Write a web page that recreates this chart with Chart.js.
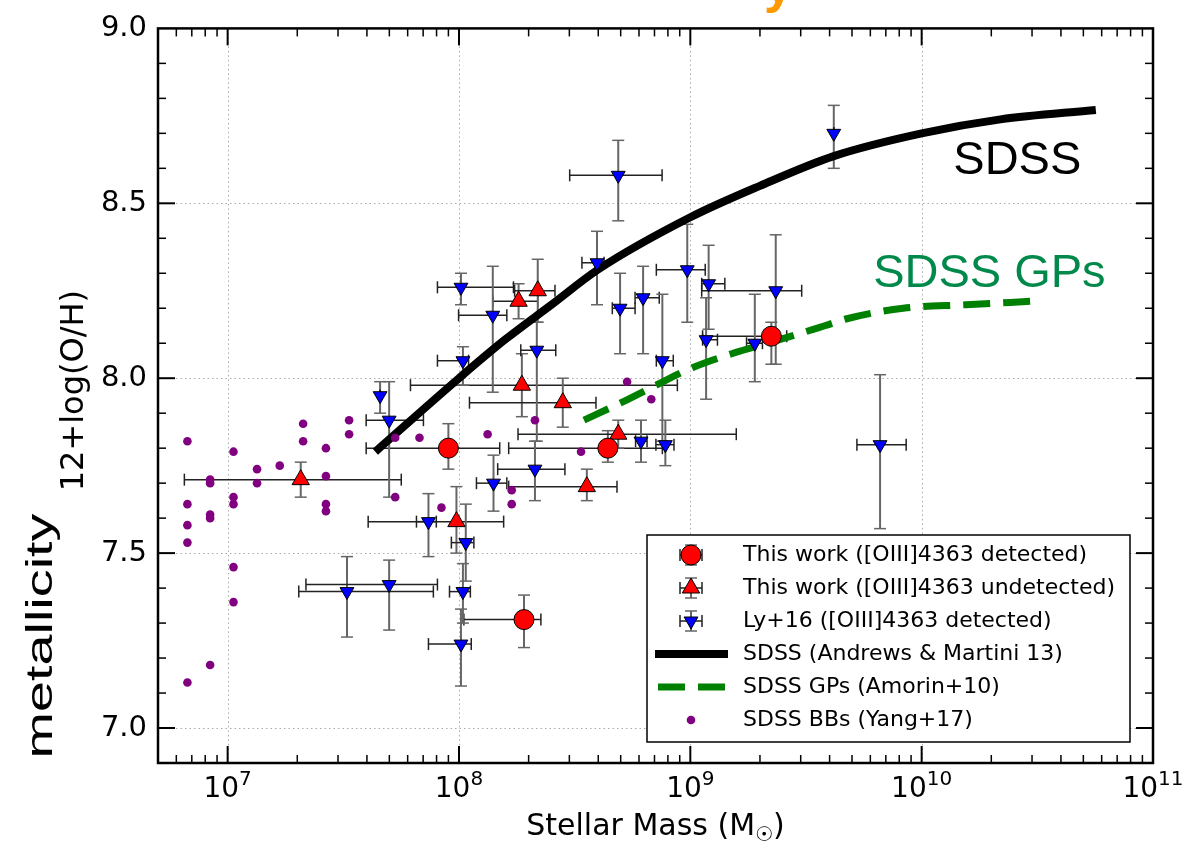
<!DOCTYPE html>
<html>
<head>
<meta charset="utf-8">
<title>Mass-metallicity relation</title>
<script src="https://cdn.jsdelivr.net/npm/chart.js"></script>
<style>
  body { margin: 0; background: #fff; }
  canvas { display: block; }
</style>
</head>
<body>
<canvas id="mzChart" width="1187" height="843"></canvas>
<script>
// stellar mass in Msun, metallicity as 12+log(O/H)

// SDSS blueberries (Yang+17)
const bbMass = [6.7e6, 6.7e6, 6.7e6, 6.7e6, 6.7e6,
  8.4e6, 8.4e6, 8.4e6, 8.4e6, 8.4e6,
  1.06e7, 1.06e7, 1.06e7, 1.06e7, 1.06e7,
  1.34e7, 1.34e7, 1.68e7, 2.12e7, 2.12e7,
  2.66e7, 2.66e7, 2.66e7, 2.66e7, 3.35e7, 3.35e7,
  5.3e7, 5.3e7, 6.75e7, 8.4e7, 1.33e8, 1.69e8, 1.69e8,
  2.13e8, 3.37e8, 5.33e8, 6.78e8];
const bbZ = [7.82, 7.64, 7.58, 7.53, 7.13,
  7.71, 7.70, 7.61, 7.60, 7.18,
  7.79, 7.66, 7.64, 7.46, 7.36,
  7.74, 7.70, 7.75, 7.87, 7.82,
  7.80, 7.72, 7.64, 7.62, 7.88, 7.84,
  7.83, 7.66, 7.83, 7.63, 7.84, 7.68, 7.64,
  7.88, 7.79, 7.99, 7.94];

// This work, [OIII]4363 detected
const detMass   = [9.0e7, 4.4e8, 1.91e8, 2.24e9];
const detZ      = [7.80, 7.80, 7.31, 8.12];
const detMassLo = [3.97e7, 1.64e8, 1.05e8, 1.13e9];
const detMassHi = [1.50e8, 7.57e8, 2.26e8, 2.61e9];
const detZLo    = [7.74, 7.76, 7.23, 8.04];
const detZHi    = [7.87, 7.85, 7.38, 8.16];

// This work, [OIII]4363 undetected
const undMass   = [2.07e7, 9.75e7, 1.81e8, 2.19e8, 1.87e8, 2.81e8, 3.57e8, 4.88e8];
const undZ      = [7.71, 7.59, 8.22, 8.25, 7.98, 7.93, 7.69, 7.84];
const undMassLo = [6.5e6, 4.05e7, 1.40e8, 1.74e8, 6.17e7, 1.11e8, 1.64e8, 1.80e8];
const undMassHi = [5.63e7, 1.56e8, 2.19e8, 2.60e8, 8.79e8, 3.91e8, 4.82e8, 1.58e9];
const undZLo    = [7.66, 7.50, 8.17, 8.16, 7.89, 7.86, 7.65, 7.80];
const undZHi    = [7.76, 7.69, 8.27, 8.34, 8.07, 8.00, 7.74, 7.88];

// Ly+16, [OIII]4363 detected
const lyMass   = [1.02e8, 1.40e8, 1.04e8, 2.17e8, 3.95e8, 4.88e8, 4.97e8, 6.25e8, 7.57e8, 9.70e8,
  1.20e9, 1.17e9, 1.90e9, 2.34e9, 4.17e9, 6.61e9, 4.56e7, 4.99e7, 1.41e8, 2.13e8,
  7.38e7, 1.07e8, 3.28e7, 4.99e7, 1.04e8, 1.02e8, 6.12e8, 7.80e8];
const lyZ      = [8.26, 8.18, 8.05, 8.08, 8.33, 8.58, 8.20, 8.23, 8.05, 8.31,
  8.27, 8.11, 8.10, 8.25, 8.70, 7.81, 7.95, 7.88, 7.70, 7.74,
  7.59, 7.53, 7.39, 7.41, 7.39, 7.24, 7.82, 7.81];
const lyMassLo = [8.07e7, 9.96e7, 8.07e7, 1.85e8, 3.40e8, 3.01e8, 4.60e8, 5.77e8, 7.13e8, 7.13e8,
  1.12e9, 1.13e9, 1.75e9, 1.12e9, 4.17e9, 5.25e9, 4.56e7, 3.97e7, 1.19e8, 1.47e8,
  6.55e7, 9.27e7, 2.03e7, 2.18e7, 9.10e7, 7.38e7, 5.80e8, 7.10e8];
const lyMassHi = [1.72e8, 1.61e8, 1.10e8, 2.62e8, 4.24e8, 7.55e8, 5.77e8, 7.34e8, 8.44e8, 1.16e9,
  1.41e9, 1.31e9, 2.05e9, 3.03e9, 4.17e9, 8.57e9, 4.56e7, 7.02e7, 1.61e8, 2.87e8,
  7.98e7, 1.16e8, 7.75e7, 8.07e7, 1.12e8, 1.13e8, 6.50e8, 8.50e8];
const lyZLo    = [8.21, 7.96, 7.98, 7.82, 8.21, 8.45, 8.07, 8.07, 7.82, 8.16,
  8.14, 7.94, 7.99, 8.04, 8.60, 7.57, 7.90, 7.66, 7.62, 7.65,
  7.49, 7.42, 7.26, 7.28, 7.30, 7.12, 7.76, 7.75];
const lyZHi    = [8.30, 8.32, 8.09, 8.16, 8.42, 8.68, 8.30, 8.32, 8.24, 8.44,
  8.38, 8.23, 8.24, 8.41, 8.78, 8.01, 7.99, 7.99, 7.78, 7.82,
  7.67, 7.64, 7.49, 7.48, 7.47, 7.34, 7.88, 7.88];

// SDSS relation (Andrews & Martini 13)
const sdssMass = [4.35e7, 1.0e8, 1.58e8, 2.51e8, 3.98e8, 1.0e9, 2.0e9, 4.17e9, 1.0e10, 2.19e10, 5.66e10];
const sdssZ    = [7.79, 8.00, 8.11, 8.21, 8.31, 8.46, 8.55, 8.635, 8.70, 8.74, 8.767];

// SDSS green peas (Amorin+10)
const gpMass = [3.47e8, 5.02e8, 7.11e8, 1.02e9, 1.51e9, 2.43e9, 3.81e9, 4.75e9, 8.32e9, 1.55e10, 3.01e10];
const gpZ    = [7.88, 7.93, 7.98, 8.03, 8.07, 8.11, 8.15, 8.17, 8.20, 8.21, 8.22];

// axes
const X_MIN = 5e6, X_MAX = 1e11;
const Y_MIN = 6.9, Y_MAX = 9.0;
const xMajor = [1e7, 1e8, 1e9, 1e10, 1e11];
const xExp = ['7', '8', '9', '10', '11'];
const yMajor = [7.0, 7.5, 8.0, 8.5, 9.0];

const legendLabels = [
  'This work ([OIII]4363 detected)',
  'This work ([OIII]4363 undetected)',
  'Ly+16 ([OIII]4363 detected)',
  'SDSS (Andrews & Martini 13)',
  'SDSS GPs (Amorin+10)',
  'SDSS BBs (Yang+17)'
];

function pts(xs, ys) { return xs.map((v, i) => ({ x: v, y: ys[i] })); }

function seg(ctx, x0, y0, x1, y1) {
  ctx.beginPath(); ctx.moveTo(x0, y0); ctx.lineTo(x1, y1); ctx.stroke();
}

// vertical + horizontal error bar with caps, pixel coords
function errBar(ctx, px, py, x0, x1, y0, y1) {
  const cap = 6;
  ctx.strokeStyle = '#666'; ctx.lineWidth = 2;
  seg(ctx, px, y0, px, y1);
  ctx.lineWidth = 1.5;
  seg(ctx, px - cap, y0, px + cap, y0);
  seg(ctx, px - cap, y1, px + cap, y1);
  ctx.strokeStyle = '#222';
  seg(ctx, x0, py, x1, py);
  seg(ctx, x0, py - cap, x0, py + cap);
  seg(ctx, x1, py - cap, x1, py + cap);
}

function tri(ctx, cx, cy, r, down, fill) {
  const s = down ? -1 : 1;
  ctx.beginPath();
  ctx.moveTo(cx, cy - s * r);
  ctx.lineTo(cx + 0.866 * r, cy + s * 0.5 * r);
  ctx.lineTo(cx - 0.866 * r, cy + s * 0.5 * r);
  ctx.closePath();
  ctx.fillStyle = fill; ctx.fill();
  ctx.strokeStyle = '#000'; ctx.lineWidth = 1; ctx.stroke();
}

const decor = {
  id: 'decor',
  beforeDatasetsDraw(chart) {
    const { ctx, chartArea: a, scales: { x, y } } = chart;
    ctx.save();
    // dotted grid
    ctx.strokeStyle = '#aaa'; ctx.lineWidth = 1; ctx.setLineDash([1.5, 3]);
    xMajor.forEach(v => {
      if (v >= X_MAX) return;
      const px = Math.round(x.getPixelForValue(v)) + 0.5;
      seg(ctx, px, a.top, px, a.bottom);
    });
    yMajor.forEach(v => {
      if (v >= Y_MAX) return;
      const py = Math.round(y.getPixelForValue(v)) + 0.5;
      seg(ctx, a.left, py, a.right, py);
    });
    ctx.setLineDash([]);
    // error bars
    chart.data.datasets.forEach(ds => {
      if (!ds.err) return;
      const e = ds.err;
      ds.data.forEach((p, i) => {
        errBar(ctx, x.getPixelForValue(p.x), y.getPixelForValue(p.y),
          x.getPixelForValue(e.xLo[i]), x.getPixelForValue(e.xHi[i]),
          y.getPixelForValue(e.yLo[i]), y.getPixelForValue(e.yHi[i]));
      });
    });
    ctx.restore();
  },
  afterDraw(chart) {
    const { ctx, chartArea: a, scales: { x, y } } = chart;
    ctx.save();
    // frame
    ctx.strokeStyle = '#000'; ctx.lineWidth = 2.5;
    ctx.strokeRect(a.left, a.top, a.right - a.left, a.bottom - a.top);
    // inward ticks, all four sides
    for (let e = 6; e <= 10; e++) {
      for (let k = 1; k <= 9; k++) {
        const v = k * Math.pow(10, e);
        if (v <= X_MIN || v >= X_MAX) continue;
        const px = x.getPixelForValue(v);
        const len = k === 1 ? 17 : 8;
        ctx.lineWidth = k === 1 ? 2 : 1.5;
        seg(ctx, px, a.bottom, px, a.bottom - len);
        seg(ctx, px, a.top, px, a.top + len);
      }
    }
    for (let i = 70; i < 90; i++) {
      const py = y.getPixelForValue(i / 10);
      const len = i % 5 === 0 ? 17 : 8;
      ctx.lineWidth = i % 5 === 0 ? 2 : 1.5;
      seg(ctx, a.left, py, a.left + len, py);
      seg(ctx, a.right, py, a.right - len, py);
    }
    // x tick labels 10^n
    ctx.fillStyle = '#000';
    ctx.textBaseline = 'alphabetic';
    xMajor.forEach((v, i) => {
      const px = x.getPixelForValue(v);
      ctx.font = '28px "DejaVu Sans"';
      const w1 = ctx.measureText('10').width;
      ctx.font = '20px "DejaVu Sans"';
      const w2 = ctx.measureText(xExp[i]).width;
      const left = px - (w1 + w2) / 2;
      ctx.textAlign = 'left';
      ctx.font = '28px "DejaVu Sans"';
      ctx.fillText('10', left, 797);
      ctx.font = '20px "DejaVu Sans"';
      ctx.fillText(xExp[i], left + w1, 785);
    });
    // x axis title
    ctx.font = '30px "DejaVu Sans"';
    const t1 = 'Stellar Mass (M', t3 = ')';
    const w1 = ctx.measureText(t1).width, w3 = ctx.measureText(t3).width;
    ctx.font = '20px "DejaVu Sans"';
    const w2 = ctx.measureText('\u2609').width;
    const sx = (a.left + a.right) / 2 - (w1 + w2 + w3) / 2;
    ctx.font = '30px "DejaVu Sans"';
    ctx.fillText(t1, sx, 835);
    ctx.font = '20px "DejaVu Sans"';
    ctx.fillText('\u2609', sx + w1, 841);
    ctx.font = '30px "DejaVu Sans"';
    ctx.fillText(t3, sx + w1 + w2, 835);
    // y axis title
    ctx.save();
    ctx.translate(75, (a.top + a.bottom) / 2 - 5);
    ctx.rotate(-Math.PI / 2);
    ctx.textAlign = 'center'; ctx.textBaseline = 'middle';
    ctx.font = '32px "DejaVu Sans"';
    ctx.fillText('12+log(O/H)', 0, 0);
    ctx.restore();
    // big "metallicity"
    ctx.save();
    ctx.translate(52, 636);
    ctx.rotate(-Math.PI / 2);
    ctx.scale(1.55, 1);
    ctx.textAlign = 'center'; ctx.textBaseline = 'alphabetic';
    ctx.font = '36px "Liberation Sans"';
    ctx.fillText('metallicity', 0, 0);
    ctx.restore();
    // orange heading, cut by the top edge
    ctx.fillStyle = '#ff9900';
    ctx.font = 'bold 52px "Liberation Sans"';
    ctx.textAlign = 'left';
    ctx.fillText('y', 764, 2);
    // curve annotations
    ctx.font = '47px "Liberation Sans"';
    ctx.fillStyle = '#000';
    ctx.fillText('SDSS', x.getPixelForValue(1.37e10), y.getPixelForValue(8.585));
    ctx.fillStyle = '#00894a';
    ctx.fillText('SDSS GPs', x.getPixelForValue(6.17e9), y.getPixelForValue(8.26));
    // legend
    const L = 647, T = 535, R = 1130, B = 742;
    ctx.fillStyle = '#fff';
    ctx.fillRect(L, T, R - L, B - T);
    ctx.strokeStyle = '#000'; ctx.lineWidth = 1.5;
    ctx.strokeRect(L, T, R - L, B - T);
    const mx = 691;
    legendLabels.forEach((lab, i) => {
      const ry = 555 + 33 * i;
      if (i < 3) errBar(ctx, mx, ry, mx - 11, mx + 11, ry - 10, ry + 10);
      if (i === 0) {
        ctx.beginPath(); ctx.arc(mx, ry, 10, 0, Math.PI * 2);
        ctx.fillStyle = '#ff0000'; ctx.fill();
        ctx.strokeStyle = '#000'; ctx.lineWidth = 1; ctx.stroke();
      } else if (i === 1) {
        tri(ctx, mx, ry, 10, false, '#ff0000');
      } else if (i === 2) {
        tri(ctx, mx, ry, 8, true, '#0000ff');
      } else if (i === 3) {
        ctx.strokeStyle = '#000'; ctx.lineWidth = 8;
        seg(ctx, 655, ry, 728, ry);
      } else if (i === 4) {
        ctx.strokeStyle = '#008000'; ctx.lineWidth = 7;
        ctx.setLineDash([27, 13]);
        seg(ctx, 658, ry, 728, ry);
        ctx.setLineDash([]);
      } else {
        ctx.beginPath(); ctx.arc(mx, ry, 4.3, 0, Math.PI * 2);
        ctx.fillStyle = '#800080'; ctx.fill();
      }
      ctx.fillStyle = '#000';
      ctx.font = '22px "DejaVu Sans"';
      ctx.textAlign = 'left'; ctx.textBaseline = 'middle';
      ctx.fillText(lab, 743, ry);
    });
    ctx.restore();
  }
};

new Chart(document.getElementById('mzChart').getContext('2d'), {
  type: 'scatter',
  data: {
    datasets: [
      {
        label: legendLabels[0],
        data: pts(detMass, detZ),
        err: { xLo: detMassLo, xHi: detMassHi, yLo: detZLo, yHi: detZHi },
        pointStyle: 'circle', pointRadius: 10,
        backgroundColor: '#ff0000', borderColor: '#000', borderWidth: 1,
        order: 1
      },
      {
        label: legendLabels[1],
        data: pts(undMass, undZ),
        err: { xLo: undMassLo, xHi: undMassHi, yLo: undZLo, yHi: undZHi },
        pointStyle: 'triangle', pointRadius: 10,
        backgroundColor: '#ff0000', borderColor: '#000', borderWidth: 1,
        order: 2
      },
      {
        label: legendLabels[2],
        data: pts(lyMass, lyZ),
        err: { xLo: lyMassLo, xHi: lyMassHi, yLo: lyZLo, yHi: lyZHi },
        pointStyle: 'triangle', pointRotation: 180, pointRadius: 8,
        backgroundColor: '#0000ff', borderColor: '#000', borderWidth: 1,
        order: 3
      },
      {
        label: legendLabels[5],
        data: pts(bbMass, bbZ),
        pointStyle: 'circle', pointRadius: 4.3,
        backgroundColor: '#800080', borderWidth: 0,
        order: 4
      },
      {
        label: legendLabels[3],
        data: pts(sdssMass, sdssZ),
        showLine: true, pointRadius: 0,
        borderColor: '#000', borderWidth: 8,
        cubicInterpolationMode: 'monotone',
        order: 5
      },
      {
        label: legendLabels[4],
        data: pts(gpMass, gpZ),
        showLine: true, pointRadius: 0,
        borderColor: '#008000', borderWidth: 7, borderDash: [27, 13],
        cubicInterpolationMode: 'monotone',
        order: 6
      }
    ]
  },
  options: {
    responsive: false,
    animation: false,
    layout: { padding: { top: 27, right: 34, left: 0, bottom: 0 } },
    plugins: { legend: { display: false }, tooltip: { enabled: false } },
    scales: {
      x: {
        type: 'logarithmic', min: X_MIN, max: X_MAX,
        grid: { display: false, drawTicks: false },
        border: { display: false },
        ticks: { display: false },
        afterFit: s => { s.height = 80; }
      },
      y: {
        type: 'linear', min: Y_MIN, max: Y_MAX,
        afterBuildTicks: s => { s.ticks = yMajor.map(v => ({ value: v })); },
        afterFit: s => { s.width = 158; },
        grid: { display: false, drawTicks: false },
        border: { display: false },
        ticks: {
          color: '#000', padding: 11,
          font: { family: 'DejaVu Sans', size: 29 },
          callback: v => v.toFixed(1)
        }
      }
    }
  },
  plugins: [decor]
});
</script>
</body>
</html>
